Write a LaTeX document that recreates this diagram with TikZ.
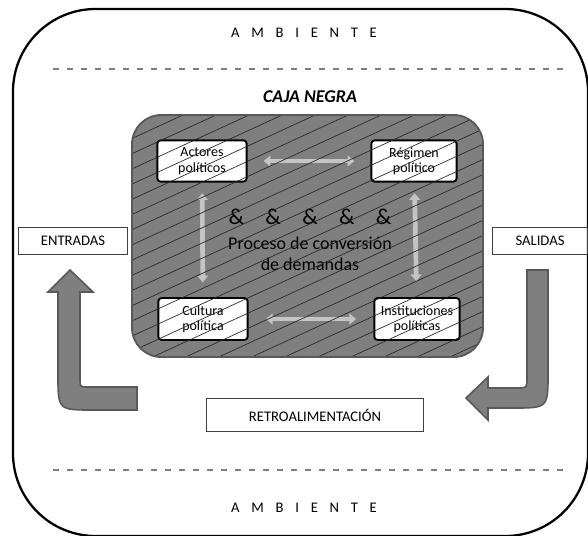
\documentclass[tikz,border=0pt]{standalone}
\usepackage{fontspec}
\setmainfont{Carlito}
\usetikzlibrary{arrows.meta}
\definecolor{boxgray}{HTML}{7F7F7F}
\definecolor{edgegray}{HTML}{595959}
\definecolor{linkgray}{HTML}{C4C4C4}
\definecolor{hatchgray}{HTML}{262626}
\newcommand{\ambiente}{A\hspace{0.8em}M\hspace{0.8em}B\hspace{0.8em}I\hspace{0.8em}E\hspace{0.8em}N\hspace{0.8em}T\hspace{0.8em}E}
\begin{document}
\begin{tikzpicture}[x=0.75pt,y=-0.75pt,every node/.style={font=\fontsize{11}{13}\selectfont},tagbox/.style={draw=black!75,line width=0.6pt,minimum height=20pt,inner sep=0pt},innerbox/.style={draw,line width=1.4pt,rounded corners=2.5pt,fill=white,align=center,minimum height=31pt,inner sep=1pt,font=\fontsize{10.5}{11.5}\selectfont},linkarrow/.style={{Triangle[width=8pt,length=5pt]}-{Triangle[width=8pt,length=5pt]},line width=3.5pt,draw=linkgray},bigarrow/.style={fill=boxgray,draw=edgegray,line width=1.2pt},divider/.style={draw=boxgray,line width=0.8pt,dash pattern=on 4.5pt off 6pt}]
\useasboundingbox (0,0) rectangle (588,535);
\draw[line width=1.7pt,rounded corners=62pt] (13,9) rectangle (588,536);
\draw[divider] (53,69)--(567,69);\draw[divider] (53,470)--(567,470);
\node (ambtop) at (304,33) {\ambiente};\node (ambbottom) at (304,508) {\ambiente};
\node[font=\fontsize{13.5}{15}\selectfont\bfseries\itshape] (cajanegra) at (310,97) {CAJA NEGRA};
% caja negra
\fill[boxgray,rounded corners=22pt] (132,115) rectangle (483,357);
\node[innerbox,minimum width=67pt] (actores) at (202,161) {Actores\\políticos};
\node[innerbox,minimum width=64pt] (regimen) at (414,161) {Régimen\\político};
\node[innerbox,minimum width=67pt,minimum height=31.5pt] (cultura) at (203,319) {Cultura\\política};
\node[innerbox,minimum width=64pt,minimum height=31.5pt] (instituciones) at (417,319) {Instituciones\\políticas};
\draw[linkarrow,shorten <=12pt,shorten >=12pt] (actores)--(regimen);
\draw[linkarrow,shorten <=13pt,shorten >=13pt] (cultura)--(instituciones);
\draw[linkarrow,shorten <=8pt,shorten >=11pt] (actores)--(cultura);
\draw[linkarrow,shorten <=8pt,shorten >=12pt] (regimen)--(instituciones);
\node[font=\fontsize{17}{19}\selectfont] (amps) at (310,217) {\&\hspace{16pt}\&\hspace{16pt}\&\hspace{16pt}\&\hspace{16pt}\&};
\node[font=\fontsize{13.5}{15.75}\selectfont,align=center] (proceso) at (310,254) {Proceso de conversión\\de demandas};
\begin{scope}
\clip[rounded corners=22pt] (132,115) rectangle (483,357);
\foreach \k in {-3,...,27} \draw[hatchgray,line width=0.5pt] (120,199.2+15.2*\k-0.46*120)--(500,199.2+15.2*\k-0.46*500);
\end{scope}
\draw[edgegray,line width=1.4pt,rounded corners=22pt] (132,115) rectangle (483,357);
% entradas, salidas, retroalimentacion
\node[tagbox,minimum width=82pt] (entradas) at (73,241) {ENTRADAS};
\node[tagbox,minimum width=71pt] (salidas) at (540,241) {SALIDAS};
\node[tagbox,minimum width=163pt,minimum height=24.5pt] (retro) at (315,415) {RETROALIMENTACIÓN};
\draw[bigarrow] (70,270)--(93,292)--(80,292)--(80,379) .. controls (80,387) .. (88,387)--(137,387)--(137,410)--(93,410) .. controls (58,410) .. (58,375)--(58,292)--(48,292)--cycle;
\draw[bigarrow] (527,270)--(548,270)--(548,373) .. controls (548,408) .. (513,408)--(488,408)--(488,420)--(466,398)--(488,377)--(488,388)--(517,388) .. controls (527,388) .. (527,378)--cycle;
\end{tikzpicture}
\end{document}
